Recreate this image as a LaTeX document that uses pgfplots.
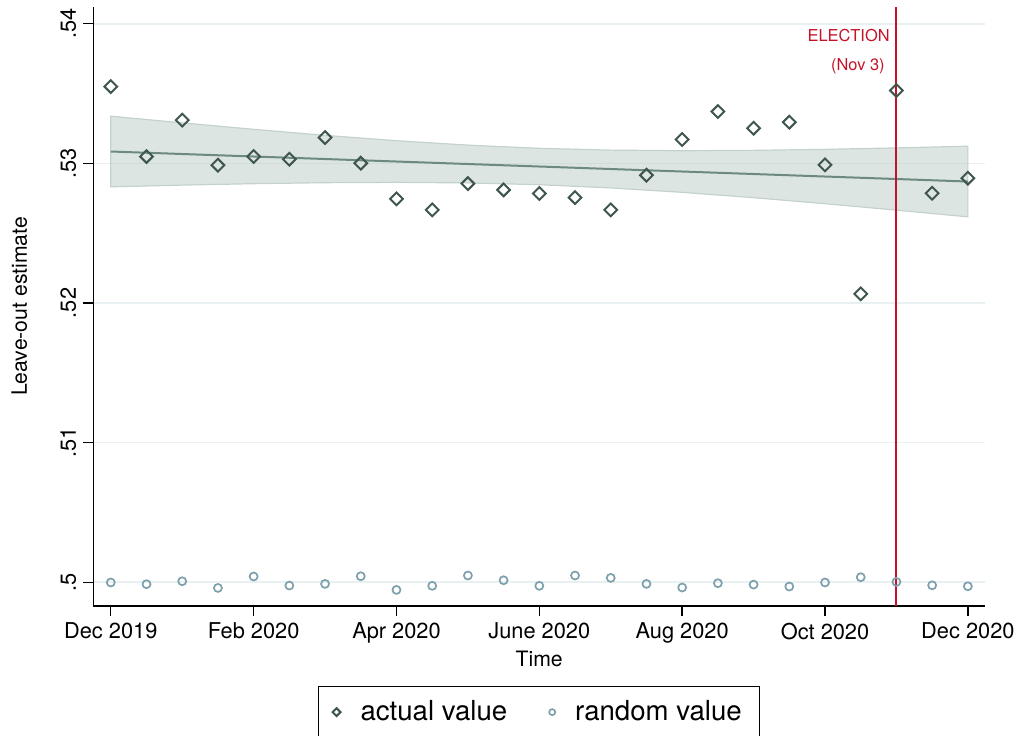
\documentclass[border=0pt]{standalone}
\usepackage{pgfplots}
\pgfplotsset{compat=1.18}
\usepackage{fontspec}
\setmainfont{TeX Gyre Heros}

\definecolor{diac}{RGB}{62,86,76}
\definecolor{circc}{RGB}{125,160,172}
\definecolor{fitc}{RGB}{108,138,126}
\definecolor{bandfill}{RGB}{180,198,190}
\definecolor{bandedge}{RGB}{196,210,204}
\definecolor{gridc}{RGB}{232,240,242}
\definecolor{redc}{RGB}{196,18,40}

% legend shows a single, smaller mark
\pgfplotsset{smallmark legend/.style={
  legend image code/.code={\draw[##1, mark size=#1] plot coordinates {(0pt,0pt)};}}}

% half-monthly leave-out estimates, Dec 2019 (0) to Dec 2020 (24)
\pgfplotstableread{
t   actual
0   0.53550
1   0.53049
2   0.53310
3   0.52987
4   0.53049
5   0.53030
6   0.53185
7   0.53001
8   0.52746
9   0.52667
10  0.52855
11  0.52810
12  0.52784
13  0.52755
14  0.52667
15  0.52915
16  0.53171
17  0.53371
18  0.53252
19  0.53295
20  0.52989
21  0.52065
22  0.53522
23  0.52786
24  0.52894
}\actualtab

\pgfplotstableread{
t   random
0   0.49998
1   0.49986
2   0.50007
3   0.49959
4   0.50041
5   0.49976
6   0.49988
7   0.50043
8   0.49945
9   0.49974
10  0.50048
11  0.50014
12  0.49974
13  0.50048
14  0.50031
15  0.49988
16  0.49962
17  0.49993
18  0.49983
19  0.49969
20  0.49998
21  0.50036
22  0.50002
23  0.49978
24  0.49971
}\randomtab

\begin{document}
\begin{tikzpicture}
\begin{axis}[
  name=ax,
  scale only axis,
  width=445.9pt, height=299.5pt,
  xmin=-0.49, xmax=24.48,
  ymin=0.4983, ymax=0.5412,
  axis lines*=left,
  axis line style={black, line width=0.7pt},
  xtick={0,4,...,24},
  xticklabels={Dec 2019, Feb 2020, Apr 2020, June 2020, Aug 2020, Oct 2020, Dec 2020},
  ytick={0.5,0.51,0.52,0.53,0.54},
  yticklabels={.5,.51,.52,.53,.54},
  tick align=outside,
  major tick length=5pt,
  tick style={black, line width=0.7pt},
  ymajorgrids,
  grid style={gridc, line width=0.8pt},
  ticklabel style={font=\fontsize{10.9}{13}\selectfont},
  yticklabel style={rotate=90, anchor=south},
  label style={font=\fontsize{10.6}{13}\selectfont},
  xlabel={Time},
  ylabel={Leave-out estimate},
  xlabel style={at={(axis description cs:0.5,-0.0885)}, anchor=center},
  ylabel style={at={(axis description cs:-0.083,0.5)}, anchor=center},
  legend columns=2,
  legend style={
    at={(0.5,-0.1336)}, anchor=north,
    draw=black, line width=0.6pt,
    font=\fontsize{13.8}{16}\selectfont,
    inner xsep=7pt, inner ysep=5pt,
    column sep=8pt,
    /tikz/every even column/.append style={column sep=19pt},
  },
]

% 95% confidence band of the linear fit
\addplot[draw=bandedge, line width=0.6pt, fill=bandfill, fill opacity=0.45, forget plot]
  coordinates {
    (0,0.533380) (2,0.532899) (4,0.532438) (6,0.532007) (8,0.531623)
    (10,0.531307) (12,0.531078) (14,0.530949) (16,0.530906) (18,0.530932)
    (20,0.531004) (22,0.531107) (24,0.531230)
    (24,0.526170) (22,0.526651) (20,0.527112) (18,0.527542) (16,0.527926)
    (14,0.528243) (12,0.528472) (10,0.528601) (8,0.528643) (6,0.528617)
    (4,0.528546) (2,0.528443) (0,0.528320)
  } -- cycle;

% linear fit
\addplot[fitc, line width=1pt, forget plot] coordinates {(0,0.53085) (24,0.52870)};

% election date
\addplot[redc, line width=1pt, forget plot] coordinates {(22,0.4983) (22,0.5412)};
\node[anchor=east, inner sep=0pt, text=redc, font=\fontsize{8.2}{10}\selectfont]
  at (axis cs:21.82,0.53918) {ELECTION};
\node[anchor=east, inner sep=0pt, text=redc, font=\fontsize{8.2}{10}\selectfont]
  at (axis cs:21.68,0.53699) {(Nov 3)};

\addplot[only marks, mark=square, mark size=2.25pt,
  mark options={draw=diac, fill=none, line width=1pt, rotate=45},
  smallmark legend=1.4pt]
  table[x=t, y=actual] {\actualtab};
\addlegendentry{actual value}

\addplot[only marks, mark=o, mark size=2pt,
  mark options={draw=circc, fill=none, line width=0.85pt},
  smallmark legend=1.5pt]
  table[x=t, y=random] {\randomtab};
\addlegendentry{random value}

\end{axis}
\pgfresetboundingbox
\path[use as bounding box]
  ([xshift=-46.65pt, yshift=-65pt]ax.south west)
  rectangle ([xshift=16pt, yshift=3.5pt]ax.north east);
\end{tikzpicture}
\end{document}
